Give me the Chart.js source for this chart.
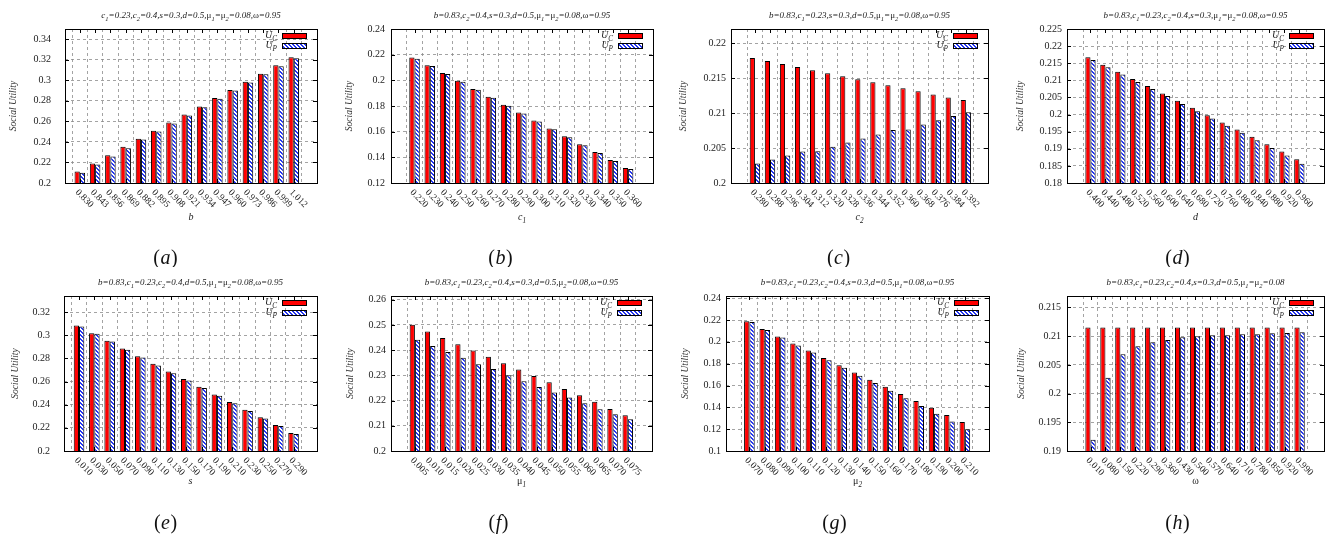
<!DOCTYPE html>
<html>
<head>
<meta charset="utf-8">
<script src="https://cdn.jsdelivr.net/npm/chart.js@4.4.1/dist/chart.umd.min.js"></script>
<style>
  html, body { margin: 0; padding: 0; background: #fff; }
  #wrap { position: relative; width: 1334px; height: 540px; overflow: hidden; }
  canvas { position: absolute; }
</style>
</head>
<body>
<div id="wrap"></div>
<script>
// ---- data ----
var aCategories = ['0.830','0.843','0.856','0.869','0.882','0.895','0.908','0.921','0.934','0.947','0.960','0.973','0.986','0.999','1.012'];
var aUC = [0.2111,0.2189,0.2270,0.2352,0.2430,0.2508,0.2590,0.2668,0.2746,0.2827,0.2906,0.2987,0.3065,0.3147,0.3225];
var aUP = [0.2101,0.2179,0.2257,0.2339,0.2423,0.2502,0.2580,0.2658,0.2739,0.2821,0.2902,0.2980,0.3059,0.3137,0.3215];
var aYTicks = ['0.2','0.22','0.24','0.26','0.28','0.3','0.32','0.34'];

var bCategories = ['0.220','0.230','0.240','0.250','0.260','0.270','0.280','0.290','0.300','0.310','0.320','0.330','0.340','0.350','0.360'];
var bUC = [0.2177,0.2117,0.2057,0.1997,0.1932,0.1872,0.1809,0.1749,0.1687,0.1624,0.1565,0.1502,0.1442,0.1380,0.1317];
var bUP = [0.2169,0.2111,0.2049,0.1989,0.1927,0.1864,0.1802,0.1742,0.1679,0.1619,0.1557,0.1494,0.1434,0.1372,0.1309];
var bYTicks = ['0.12','0.14','0.16','0.18','0.2','0.22','0.24'];

var cCategories = ['0.280','0.288','0.296','0.304','0.312','0.320','0.328','0.336','0.344','0.352','0.360','0.368','0.376','0.384','0.392'];
var cUC = [0.21785,0.21742,0.21699,0.21656,0.21612,0.21569,0.21526,0.21483,0.21440,0.21397,0.21354,0.21311,0.21263,0.21220,0.21187];
var cUP = [0.20278,0.20335,0.20392,0.20450,0.20455,0.20517,0.20579,0.20636,0.20694,0.20756,0.20766,0.20837,0.20895,0.20957,0.21010];
var cYTicks = ['0.2','0.205','0.21','0.215','0.22'];

var dCategories = ['0.400','0.440','0.480','0.520','0.560','0.600','0.640','0.680','0.720','0.760','0.800','0.840','0.880','0.920','0.960'];
var dUC = [0.21672,0.21457,0.21252,0.21037,0.20832,0.20617,0.20402,0.20197,0.19982,0.19768,0.19563,0.19348,0.19133,0.18918,0.18693];
var dUP = [0.21594,0.21379,0.21174,0.20949,0.20744,0.20539,0.20305,0.20100,0.19885,0.19670,0.19465,0.19250,0.19025,0.18801,0.18566];
var dYTicks = ['0.18','0.185','0.19','0.195','0.2','0.205','0.21','0.215','0.22','0.225'];

var eCategories = ['0.010','0.030','0.050','0.070','0.090','0.110','0.130','0.150','0.170','0.190','0.210','0.230','0.250','0.270','0.290'];
var eUC = [0.3085,0.3019,0.2953,0.2886,0.2820,0.2754,0.2688,0.2622,0.2555,0.2489,0.2423,0.2357,0.2291,0.2224,0.2155];
var eUP = [0.3076,0.3013,0.2947,0.2875,0.2809,0.2740,0.2673,0.2610,0.2544,0.2478,0.2412,0.2345,0.2282,0.2216,0.2147];
var eYTicks = ['0.2','0.22','0.24','0.26','0.28','0.3','0.32'];

var fCategories = ['0.005','0.010','0.015','0.020','0.025','0.030','0.035','0.040','0.045','0.050','0.055','0.060','0.065','0.070','0.075'];
var fUC = [0.2501,0.2474,0.2448,0.2424,0.2399,0.2374,0.2348,0.2323,0.2298,0.2273,0.2246,0.2221,0.2195,0.2167,0.2142];
var fUP = [0.2441,0.2417,0.2393,0.2370,0.2344,0.2325,0.2301,0.2277,0.2254,0.2232,0.2212,0.2189,0.2166,0.2146,0.2126];
var fYTicks = ['0.2','0.21','0.22','0.23','0.24','0.25','0.26'];

var gCategories = ['0.070','0.080','0.090','0.100','0.110','0.120','0.130','0.140','0.150','0.160','0.170','0.180','0.190','0.200','0.210'];
var gUC = [0.2188,0.2117,0.2049,0.1985,0.1920,0.1852,0.1785,0.1720,0.1652,0.1588,0.1523,0.1458,0.1397,0.1329,0.1265];
var gUP = [0.2182,0.2108,0.2040,0.1966,0.1902,0.1831,0.1763,0.1689,0.1622,0.1551,0.1483,0.1412,0.1342,0.1271,0.1200];
var gYTicks = ['0.1','0.12','0.14','0.16','0.18','0.2','0.22','0.24'];

var hCategories = ['0.010','0.080','0.150','0.220','0.290','0.360','0.430','0.500','0.570','0.640','0.710','0.780','0.850','0.920','0.990'];
var hUC = [0.2115,0.2115,0.2115,0.2115,0.2115,0.2115,0.2115,0.2115,0.2115,0.2115,0.2115,0.2115,0.2115,0.2115,0.2115];
var hUP = [0.19198,0.20276,0.20684,0.20824,0.20894,0.20935,0.20981,0.20999,0.21016,0.21016,0.21034,0.21034,0.21051,0.21057,0.21069];
var hYTicks = ['0.19','0.195','0.2','0.205','0.21','0.215'];

var seriesNames = ['U_C', 'U_P'];
var yTitle = 'Social Utility';

// ---- panels: where each one sits on the page ----
var SERIF = '"Liberation Serif", "Times New Roman", serif';
var colX = [0, 334, 668, 1000];
var rowY = [0, 267];
var rowH = [267, 273];

var panels = [
  {cap:'a', col:0, row:0, area:[65,29,317,183], xr:[-0.42,14.97], yr:[0.2,0.35], pad:14, ylx:13, capx:165,
   cats:aCategories, uc:aUC, up:aUP, yt:aYTicks, title:'c_1=0.23,c_2=0.4,s=0.3,d=0.5,μ_1=μ_2=0.08,ω=0.95', xt:'b'},
  {cap:'b', col:1, row:0, area:[391,29,653,183], xr:[-0.97,15.06], yr:[0.12,0.24], pad:6, ylx:349, capx:500,
   cats:bCategories, uc:bUC, up:bUP, yt:bYTicks, title:'b=0.83,c_2=0.4,s=0.3,d=0.5,μ_1=μ_2=0.08,ω=0.95', xt:'c_1'},
  {cap:'c', col:2, row:0, area:[731,29,988,183], xr:[-1.02,14.9], yr:[0.2,0.222], pad:5, ylx:683, capx:838,
   cats:cCategories, uc:cUC, up:cUP, yt:cYTicks, title:'b=0.83,c_1=0.23,s=0.3,d=0.5,μ_1=μ_2=0.08,ω=0.95', xt:'c_2'},
  {cap:'d', col:3, row:0, area:[1067,29,1324,183], xr:[-1.0,15.08], yr:[0.18,0.225], pad:5, ylx:1020, capx:1177,
   cats:dCategories, uc:dUC, up:dUP, yt:dYTicks, title:'b=0.83,c_1=0.23,c_2=0.4,s=0.3,μ_1=μ_2=0.08,ω=0.95', xt:'d'},
  {cap:'e', col:0, row:1, area:[64,296,317,451], xr:[-0.43,14.98], yr:[0.2,0.334], pad:14, ylx:15, capx:165,
   cats:eCategories, uc:eUC, up:eUP, yt:eYTicks, title:'b=0.83,c_1=0.23,c_2=0.4,d=0.5,μ_1=μ_2=0.08,ω=0.95', xt:'s'},
  {cap:'f', col:1, row:1, area:[391,296,652,451], xr:[-1.0,15.02], yr:[0.2,0.2615], pad:5, ylx:350, capx:498,
   cats:fCategories, uc:fUC, up:fUP, yt:fYTicks, title:'b=0.83,c_1=0.23,c_2=0.4,s=0.3,d=0.5,μ_2=0.08,ω=0.95', xt:'μ_1'},
  {cap:'g', col:2, row:1, area:[726,296,989,451], xr:[-0.95,15.0], yr:[0.1,0.242], pad:5, ylx:685, capx:834,
   cats:gCategories, uc:gUC, up:gUP, yt:gYTicks, title:'b=0.83,c_1=0.23,c_2=0.4,s=0.3,d=0.5,μ_1=0.08,ω=0.95', xt:'μ_2'},
  {cap:'h', col:3, row:1, area:[1067,296,1324,451], xr:[-1.0,15.06], yr:[0.19,0.217], pad:6, ylx:1021, capx:1177,
   cats:hCategories, uc:hUC, up:hUP, yt:hYTicks, title:'b=0.83,c_1=0.23,c_2=0.4,s=0.3,d=0.5,μ_1=μ_2=0.08', xt:'ω'}
];

// blue "\\\\" hatch like gnuplot's pattern fill, drawn pixel by pixel so it stays crisp
function makeHatch() {
  var c = document.createElement('canvas');
  c.width = 4; c.height = 4;
  var g = c.getContext('2d');
  g.fillStyle = '#ffffff';
  g.fillRect(0, 0, 4, 4);
  g.fillStyle = '#2436f0';
  for (var i = 0; i < 4; i++) {
    g.fillRect(i, i, 1, 1);
    g.fillRect((i + 1) % 4, i, 1, 1);
  }
  return g.createPattern(c, 'repeat');
}
var hatch = makeHatch();

// text with "_x" subscripts, greek upright, rest italic
function richText(ctx, str, x, y, size, align) {
  var segs = [];
  for (var i = 0; i < str.length; i++) {
    if (str[i] === '_' && i + 1 < str.length) { segs.push({t: str[i+1], sub: true}); i++; }
    else segs.push({t: str[i], sub: false});
  }
  function fontFor(s) {
    var sz = s.sub ? size * 0.72 : size;
    var it = /[μω]/.test(s.t) ? '' : 'italic ';
    return it + sz + 'px ' + SERIF;
  }
  var total = 0;
  segs.forEach(function(s) { ctx.font = fontFor(s); s.w = ctx.measureText(s.t).width; total += s.w; });
  var cx = align === 'center' ? x - total / 2 : (align === 'right' ? x - total : x);
  ctx.textAlign = 'left';
  ctx.textBaseline = 'alphabetic';
  segs.forEach(function(s) {
    ctx.font = fontFor(s);
    ctx.fillText(s.t, cx, y + (s.sub ? size * 0.3 : 0));
    cx += s.w;
  });
}

function decorPlugin(p, ox, oy) {
  return {
    id: 'gpDecor' + p.cap,
    afterDraw: function(chart) {
      var ctx = chart.ctx, a = chart.chartArea;
      var xs = chart.scales.x, ys = chart.scales.y;
      ctx.save();
      // frame + inward tics
      ctx.strokeStyle = '#000';
      ctx.lineWidth = 1;
      ctx.strokeRect(Math.round(a.left) + 0.5, Math.round(a.top) + 0.5, Math.round(a.right - a.left), Math.round(a.bottom - a.top));
      ctx.beginPath();
      p.yt.forEach(function(t) {
        var py = Math.round(ys.getPixelForValue(parseFloat(t))) + 0.5;
        ctx.moveTo(a.left, py); ctx.lineTo(a.left + 4, py);
        ctx.moveTo(a.right, py); ctx.lineTo(a.right - 4, py);
      });
      p.cats.forEach(function(c, i) {
        var px = Math.round(xs.getPixelForValue(i)) + 0.5;
        ctx.moveTo(px, a.bottom); ctx.lineTo(px, a.bottom - 4);
        ctx.moveTo(px, a.top); ctx.lineTo(px, a.top + 4);
      });
      ctx.stroke();

      // rotated category labels
      ctx.fillStyle = '#222';
      ctx.font = '9.5px ' + SERIF;
      ctx.textAlign = 'left';
      ctx.textBaseline = 'middle';
      p.cats.forEach(function(c, i) {
        var px = xs.getPixelForValue(i);
        ctx.save();
        ctx.translate(px - 3, a.bottom + 8);
        ctx.rotate(Math.PI / 4);
        ctx.fillText(c, 0, 0);
        ctx.restore();
      });

      // titles
      ctx.fillStyle = '#222';
      richText(ctx, p.title, (a.left + a.right) / 2, 18, 9, 'center');
      richText(ctx, p.xt, (a.left + a.right) / 2, (p.row === 0 ? 220 : 217), 10, 'center');
      ctx.save();
      ctx.translate(p.ylx - ox, (a.top + a.bottom) / 2);
      ctx.rotate(-Math.PI / 2);
      ctx.font = 'italic 9.5px ' + SERIF;
      ctx.fillStyle = '#333';
      ctx.textAlign = 'center';
      ctx.textBaseline = 'middle';
      ctx.fillText(yTitle, 0, 0);
      ctx.restore();

      // key, top right
      var kx = a.right - 35, kw = 24;
      [{fill: '#ff0000'}, {fill: hatch}].forEach(function(k, i) {
        var ky = a.top + 4 + i * 10;
        ctx.fillStyle = k.fill;
        ctx.fillRect(kx, ky, kw, 5);
        ctx.strokeStyle = '#000';
        ctx.strokeRect(kx + 0.5, ky + 0.5, kw, 5);
        ctx.fillStyle = '#222';
        richText(ctx, seriesNames[i], kx - 5, ky + 5, 10, 'right');
      });

      // panel caption (a), (b) ...
      var cy = p.row === 0 ? 264 : 262;
      var cx = p.capx - ox;
      ctx.fillStyle = '#111';
      ctx.font = '20px ' + SERIF;
      var w1 = ctx.measureText('(').width;
      ctx.font = 'italic 20px ' + SERIF;
      var w2 = ctx.measureText(p.cap).width;
      var x0 = cx - (w1 * 2 + w2) / 2;
      ctx.textAlign = 'left';
      ctx.textBaseline = 'alphabetic';
      ctx.font = '20px ' + SERIF;
      ctx.fillText('(', x0, cy);
      ctx.fillText(')', x0 + w1 + w2 + 1, cy);
      ctx.font = 'italic 20px ' + SERIF;
      ctx.fillText(p.cap, x0 + w1 + 0.5, cy);
      ctx.restore();
    }
  };
}

var wrap = document.getElementById('wrap');
panels.forEach(function(p) {
  var ox = colX[p.col], oy = rowY[p.row];
  var W = 334, H = rowH[p.row];
  var cv = document.createElement('canvas');
  cv.width = W; cv.height = H;
  cv.style.left = ox + 'px'; cv.style.top = oy + 'px';
  wrap.appendChild(cv);

  var L = p.area[0] - ox, T = p.area[1] - oy, R = p.area[2] - ox, B = p.area[3] - oy;
  var yVals = p.yt.map(parseFloat);

  new Chart(cv.getContext('2d'), {
    type: 'bar',
    data: {
      datasets: [
        { label: 'U_C', data: p.uc.map(function(v, i) { return {x: i, y: v}; }),
          backgroundColor: '#ff0000', borderColor: '#000', borderWidth: 1 },
        { label: 'U_P', data: p.up.map(function(v, i) { return {x: i, y: v}; }),
          backgroundColor: hatch, borderColor: '#000', borderWidth: 1 }
      ]
    },
    options: {
      responsive: false,
      animation: false,
      layout: { padding: { left: 0, top: T, right: W - R, bottom: 0 } },
      datasets: { bar: { categoryPercentage: 0.69, barPercentage: 1.0 } },
      plugins: { legend: { display: false }, tooltip: { enabled: false }, title: { display: false } },
      scales: {
        x: {
          type: 'linear',
          min: p.xr[0], max: p.xr[1],
          afterBuildTicks: function(s) { s.ticks = p.cats.map(function(c, i) { return {value: i}; }); },
          afterFit: function(s) { s.height = H - B; },
          ticks: { display: false },
          grid: { color: '#8c8c8c', lineWidth: 0.8, drawTicks: false },
          border: { display: false, dash: [3, 3] }
        },
        y: {
          min: p.yr[0], max: p.yr[1],
          afterBuildTicks: function(s) { s.ticks = yVals.map(function(v) { return {value: v}; }); },
          afterFit: function(s) { s.width = L; },
          ticks: {
            padding: p.pad,
            color: '#222',
            font: { family: SERIF, size: 10 },
            callback: function(v, i) { return p.yt[i]; }
          },
          grid: { color: '#8c8c8c', lineWidth: 0.8, drawTicks: false },
          border: { display: false, dash: [3, 3] }
        }
      }
    },
    plugins: [decorPlugin(p, ox, oy)]
  });
});
</script>
</body>
</html>
